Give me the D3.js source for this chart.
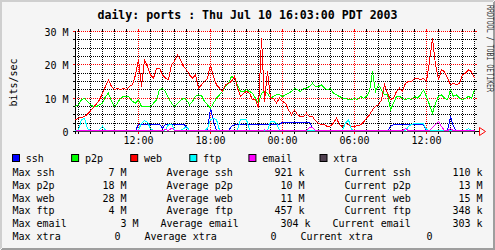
<!DOCTYPE html>
<html>
<head>
<meta charset="utf-8">
<script src="https://cdn.jsdelivr.net/npm/d3@7"></script>
<style>
  html, body { margin: 0; padding: 0; background: #f5f5f5; }
  svg { display: block; }
  text { font-family: "DejaVu Sans Mono", monospace; fill: #000; }
</style>
</head>
<body>
<svg id="chart" width="495" height="250"></svg>
<script>
// Series, legend order
const seriesNames = ['ssh', 'p2p', 'web', 'ftp', 'email', 'xtra']
const seriesColors = ['#0000ff', '#00ff00', '#ff0000', '#00ffff', '#ff00ff', '#504050']

// Samples every 15 minutes from Jul 9 06:45 (values in Mbit/s)
const startTime = new Date(2003, 6, 9, 6, 45)
const endTime = new Date(2003, 6, 10, 16, 5)
const stepMinutes = 15

const ssh = [
  0.1, 0.1, 0.1, 0.1, 0.1, 0.1, 0.1, 0.1, 0.1, 0.1,
  0.1, 0.1, 0.1, 0.1, 0.1, 0.1, 0.1, 0.1, 0.1, 0.1,
  0.1, 2.2, 2.2, 2.2, 2.2, 2.2, 2.2, 2.2, 2.2, 1.0,
  2.2, 2.2, 2.2, 2.2, 2.2, 2.2, 2.2, 1.3, 0.2, 0.2,
  0.2, 0.2, 0.2, 0.2, 0.2, 7.0, 3.0, 0.2, 0.2, 0.2,
  0.2, 0.2, 1.5, 2.0, 2.0, 2.0, 2.0, 2.0, 2.0, 2.0,
  2.0, 2.2, 2.2, 2.2, 2.2, 2.2, 2.2, 2.2, 2.2, 2.7,
  2.7, 2.7, 2.7, 2.7, 2.7, 2.7, 2.7, 2.7, 2.7, 1.2,
  0.3, 0.1, 0.1, 0.1, 0.1, 0.1, 0.1, 0.1, 0.1, 0.1,
  0.1, 0.1, 0.1, 0.1, 0.1, 0.1, 0.1, 0.1, 0.1, 0.1,
  0.1, 0.1, 0.1, 0.1, 0.1, 1.5, 2.1, 2.1, 2.1, 2.1,
  2.1, 2.1, 2.1, 2.1, 2.1, 2.1, 2.1, 0.3, 0.2, 0.2,
  0.2, 0.2, 0.2, 0.2, 0.2, 4.5, 1.5, 0.2, 0.2, 0.2,
  0.2, 0.2, 0.2, 0.2
]
const p2p = [
  7.5, 8, 9.5, 10, 9, 8, 7.5, 7.5, 8, 8.5,
  10.5, 11.5, 9, 7.5, 8.5, 10, 10.5, 10.5, 10.3, 9,
  8.5, 9.5, 7.5, 7.5, 7.5, 7.5, 8.5, 9.5, 12.5, 13,
  12, 10, 8.5, 7.5, 8.3, 9.3, 10, 9.5, 8, 9,
  10.5, 11, 10.8, 9, 8, 7, 8.5, 10, 11, 12,
  13.5, 14.5, 16.5, 16, 14, 12, 12, 12.5, 12, 11.5,
  10, 8.5, 11.5, 12, 11.5, 10, 10.5, 11, 11, 10.5,
  11, 11.5, 12, 13, 12.5, 12, 13, 13, 13.5, 14.5,
  13.5, 13.5, 14, 13, 12.5, 13, 11.5, 11, 10.5, 10,
  10, 9.5, 9.5, 10, 9.5, 10.5, 10, 10.5, 12, 18,
  12, 14, 12.5, 11, 11, 6.5, 8.5, 10.5, 10.5, 10,
  9.5, 10, 9.5, 10.5, 10, 11, 12.5, 10.5, 8, 5.5,
  8.5, 10.5, 11, 10, 9.5, 12.5, 10.5, 11, 10, 9.5,
  10, 10.5, 10, 12.5
]
const web = [
  3.5, 4.0, 4.2, 4.5, 5.2, 6.2, 7.2, 8.3, 9.5, 11.5,
  13.5, 15.5, 13.5, 12.5, 13, 12.5, 13, 12.5, 13.5, 14,
  17, 21.5, 13.5, 21.5, 19.5, 17, 16, 19, 19, 17,
  16, 15.5, 20, 21, 23, 21.5, 19.5, 18.5, 17, 16,
  17, 13, 14, 15, 16, 20, 16.5, 14, 13, 12,
  14, 14.5, 15, 16.5, 13, 10.5, 11.5, 12, 11.5, 9.5,
  9.5, 7, 28, 9, 18, 10, 10, 8.5, 10, 9,
  8.5, 6.5, 5, 6.5, 5, 4.5, 4.5, 5.5, 4.5, 4.5,
  3.2, 2.5, 2, 2, 1.5, 1.7, 2.5, 4, 2, 1.5,
  2.5, 2, 1.5, 1.5, 1.8, 2, 2.8, 4, 5, 6.5,
  7.5, 8, 9.5, 14, 11.5, 9.5, 10, 12, 13, 12,
  14.5, 15, 15, 16, 16, 15.5, 16, 15, 21, 28,
  20, 15.5, 18.5, 18, 16, 14, 14.5, 14, 14.5, 17,
  17.5, 18.5, 18, 16
]
const ftp = [
  0.3, 0.5, 3.5, 4, 0.8, 0.3, 0.3, 0.3, 0.5, 1.6,
  0.4, 0.3, 0.3, 0.3, 0.3, 0.3, 0.3, 0.3, 0.3, 0.3,
  0.3, 0.5, 2.5, 3.2, 2.8, 0.8, 0.3, 0.3, 0.3, 0.3,
  0.5, 2, 2.2, 0.5, 0.3, 0.3, 0.8, 1.5, 0.3, 0.3,
  0.3, 0.3, 0.3, 0.3, 1, 3.5, 4, 3.5, 0.4, 0.3,
  0.3, 0.3, 0.3, 0.3, 0.5, 3.5, 3.5, 3.5, 0.5, 0.3,
  0.3, 0.3, 0.3, 0.3, 0.4, 3, 3, 2.5, 0.4, 0.3,
  0.3, 0.3, 0.3, 0.3, 0.3, 0.3, 0.3, 0.3, 0.3, 0.3,
  0.3, 0.3, 0.3, 0.3, 0.3, 0.3, 0.3, 0.3, 0.3, 0.5,
  2.5, 3.5, 0.6, 0.3, 0.3, 0.3, 0.3, 0.3, 0.3, 0.3,
  0.3, 0.3, 0.3, 0.3, 0.3, 0.3, 0.3, 0.3, 0.3, 0.3,
  0.3, 1.5, 2.2, 2.3, 2.3, 2.3, 2.3, 0.6, 0.3, 0.3,
  0.3, 0.3, 0.3, 0.3, 0.3, 0.3, 0.3, 0.3, 0.3, 0.3,
  0.3, 0.8, 0.3, 0.3
]
const email = [
  0.3, 0.3, 0.3, 0.3, 0.3, 0.3, 0.3, 0.3, 0.3, 0.3,
  0.3, 0.3, 0.3, 0.3, 0.3, 0.3, 0.3, 0.3, 0.3, 0.3,
  0.3, 0.3, 0.3, 0.3, 0.3, 0.3, 0.3, 0.3, 0.3, 0.3,
  0.6, 0.3, 1.0, 0.4, 0.3, 0.3, 0.3, 0.3, 0.3, 0.3,
  0.3, 0.3, 0.3, 0.3, 0.3, 0.3, 0.3, 0.3, 0.3, 0.3,
  0.3, 0.3, 0.3, 0.3, 0.3, 0.3, 0.3, 0.3, 0.3, 0.3,
  0.3, 0.3, 0.3, 0.5, 0.3, 0.3, 0.3, 0.3, 0.3, 0.3,
  0.3, 0.3, 0.3, 0.3, 0.3, 0.3, 0.3, 0.3, 1.3, 1.2,
  0.3, 0.3, 0.3, 0.3, 0.3, 0.3, 0.3, 0.3, 0.3, 0.3,
  0.3, 0.3, 0.3, 0.3, 0.3, 0.3, 0.3, 0.3, 0.3, 0.3,
  0.3, 0.3, 0.3, 0.3, 0.3, 0.3, 0.3, 0.3, 0.3, 0.3,
  0.8, 0.3, 0.3, 0.3, 0.3, 0.3, 0.3, 0.3, 0.3, 1.2,
  2, 3, 1.5, 0.3, 0.3, 0.8, 0.3, 0.3, 0.3, 0.3,
  0.3, 0.3, 0.3, 0.3
]
const xtra = [
  0, 0, 0, 0, 0, 0, 0, 0, 0, 0, 0, 0, 0, 0, 0, 0, 0, 0, 0, 0,
  0, 0, 0, 0, 0, 0, 0, 0, 0, 0, 0, 0, 0, 0, 0, 0, 0, 0, 0, 0,
  0, 0, 0, 0, 0, 0, 0, 0, 0, 0, 0, 0, 0, 0, 0, 0, 0, 0, 0, 0,
  0, 0, 0, 0, 0, 0, 0, 0, 0, 0, 0, 0, 0, 0, 0, 0, 0, 0, 0, 0,
  0, 0, 0, 0, 0, 0, 0, 0, 0, 0, 0, 0, 0, 0, 0, 0, 0, 0, 0, 0,
  0, 0, 0, 0, 0, 0, 0, 0, 0, 0, 0, 0, 0, 0, 0, 0, 0, 0, 0, 0,
  0, 0, 0, 0, 0, 0, 0, 0, 0, 0, 0, 0, 0, 0
]

// Legend statistics (bits/sec)
const maxValues = [7e6, 18e6, 28e6, 4e6, 3e6, 0]
const avgValues = [921e3, 10e6, 11e6, 457e3, 304e3, 0]
const curValues = [110e3, 13e6, 15e6, 348e3, 303e3, 0]

const yTickValues = [0, 10, 20, 30]
const title = 'daily: ports : Thu Jul 10 16:03:00 PDT 2003'
const yTitle = 'bits/sec'
const watermark = 'RRDTOOL / TOBI OETIKER'

const CHAR = 6
const plot = { left: 75, top: 31, width: 400, height: 100 }
const crisp = v => Math.round(v) + 0.5

const svg = d3.select('#chart')

// Frame
svg.append('rect').attr('width', 495).attr('height', 250).attr('fill', '#f5f5f5')
svg.append('path').attr('d', 'M0,0.5H494M0,1.5H493M0.5,0V249M1.5,0V248').attr('stroke', '#cfcfcf')
svg.append('path').attr('d', 'M1,249.5H495M2,248.5H495M494.5,1V250M493.5,2V250').attr('stroke', '#9e9e9e')
svg.append('rect')
  .attr('x', plot.left).attr('y', plot.top)
  .attr('width', plot.width).attr('height', plot.height + 1)
  .attr('fill', '#fff')

// Scales
const x = d3.scaleTime().domain([startTime, endTime]).range([plot.left, plot.left + plot.width])
const y = d3.scaleLinear().domain([0, 30]).range([plot.top + plot.height, plot.top])
const xr = [plot.left, plot.left + plot.width]
const yr = [plot.top, plot.top + plot.height]

// Grid
const grid = svg.append('g')
const minorY = d3.range(0, 30.01, 2.5).filter(v => v % 10 !== 0)
const minorX = x.ticks(d3.timeHour.every(1)).filter(t => t.getHours() % 6 !== 0)
const majorX = x.ticks(d3.timeHour.every(6))

const hLine = (vals, color) => {
  vals.forEach(v => {
    const yy = crisp(y(v))
    grid.append('line').attr('x1', xr[0]).attr('x2', xr[1] + 2).attr('y1', yy).attr('y2', yy)
      .attr('stroke', color).attr('stroke-dasharray', '1,1')
    grid.append('line').attr('x1', xr[0] - 2).attr('x2', xr[0]).attr('y1', yy).attr('y2', yy).attr('stroke', color)
    grid.append('line').attr('x1', xr[1]).attr('x2', xr[1] + 2).attr('y1', yy).attr('y2', yy).attr('stroke', color)
  })
}
const vLine = (vals, color) => {
  vals.forEach(t => {
    const xx = crisp(x(t))
    grid.append('line').attr('x1', xx).attr('x2', xx).attr('y1', yr[0] - 2).attr('y2', yr[1])
      .attr('stroke', color).attr('stroke-dasharray', '1,1')
    grid.append('line').attr('x1', xx).attr('x2', xx).attr('y1', yr[1]).attr('y2', yr[1] + 3).attr('stroke', color)
    grid.append('line').attr('x1', xx).attr('x2', xx).attr('y1', yr[0] - 2).attr('y2', yr[0]).attr('stroke', color)
  })
}
hLine(minorY, '#000')
vLine(minorX, '#000')
hLine(yTickValues, '#ff0000')
vLine(majorX, '#ff0000')

// Axes
svg.append('line').attr('x1', plot.left + 0.5).attr('x2', plot.left + 0.5)
  .attr('y1', yr[0]).attr('y2', yr[1] + 3).attr('stroke', '#000')
svg.append('line').attr('x1', xr[0] - 2).attr('x2', xr[1] + 4)
  .attr('y1', yr[1] + 0.5).attr('y2', yr[1] + 0.5).attr('stroke', '#000')
svg.append('path').attr('d', `M${xr[1] + 4.5},${yr[1] - 3.5}L${xr[1] + 10.5},${yr[1] + 0.5}L${xr[1] + 4.5},${yr[1] + 4.5}Z`)
  .attr('fill', 'none').attr('stroke', '#ff0000')

svg.append('g').selectAll('text')
  .data(yTickValues)
  .enter().append('text')
  .attr('x', 68.5)
  .attr('y', d => crisp(y(d)) + 4)
  .attr('text-anchor', 'end')
  .style('font-size', '10px')
  .text(d => d === 0 ? '0' : `${d} M`)

svg.append('g').selectAll('text')
  .data(majorX)
  .enter().append('text')
  .attr('x', d => crisp(x(d)))
  .attr('y', 143.5)
  .attr('text-anchor', 'middle')
  .style('font-size', '10px')
  .text(d3.timeFormat('%H:%M'))

// Lines
const allSeries = [ssh, p2p, web, ftp, email, xtra]
const line = d3.line()
  .x((d, i) => x(d3.timeMinute.offset(startTime, i * stepMinutes)))
  .y(d => y(d))
const lines = svg.append('g').attr('transform', 'translate(0.5,0.5)')
allSeries.forEach((data, i) => {
  lines.append('path')
    .datum(data)
    .attr('d', line)
    .attr('fill', 'none')
    .attr('stroke', seriesColors[i])
    .attr('stroke-width', 1)
    .attr('shape-rendering', 'crispEdges')
})

// Titles
svg.append('text')
  .attr('x', 247.5).attr('y', 19)
  .attr('text-anchor', 'middle')
  .style('font-size', '11.6px')
  .style('font-weight', 'bold')
  .text(title)

svg.append('text')
  .attr('transform', 'translate(16.5, 82.5) rotate(-90)')
  .attr('text-anchor', 'middle')
  .style('font-size', '10px')
  .text(yTitle)

svg.append('text')
  .attr('transform', 'translate(486.5, 5) rotate(90)')
  .attr('textLength', 87)
  .attr('lengthAdjust', 'spacingAndGlyphs')
  .style('font-size', '9px')
  .style('fill', '#333')
  .text(watermark)

// Legend boxes
let lx = 12.5
seriesNames.forEach((name, i) => {
  svg.append('rect')
    .attr('x', lx).attr('y', 154.5).attr('width', 7).attr('height', 7)
    .attr('fill', seriesColors[i]).attr('stroke', '#000')
  svg.append('text')
    .attr('x', lx + 13.3).attr('y', 162)
    .style('font-size', '10px')
    .text(name)
  lx += 13.3 + name.length * CHAR + 27.8
})

// GPRINT style statistics
const siFormat = v => {
  if (v >= 1e6) return [String(Math.round(v / 1e6)), 'M']
  if (v >= 1e3) return [String(Math.round(v / 1e3)), 'k']
  return [String(v), '']
}
const gprint = (label, v) => {
  const [num, unit] = siFormat(v)
  return { label, num, unit, len: label.length + 11 + unit.length }
}
const rows = seriesNames.map((name, i) => [
  gprint(`Max ${name}`, maxValues[i]),
  gprint(`Average ${name}`, avgValues[i]),
  gprint(`Current ${name}`, curValues[i])
])

rows.forEach((items, r) => {
  const baseY = 176 + r * 12.8
  const widths = items.map(d => d.len * CHAR)
  let xs
  if (r < rows.length - 1) {
    const x0 = 12.5
    const x2 = 482.5 - widths[2]
    const gap = (x2 - x0 - widths[0] - widths[1]) / 2
    xs = [x0, x0 + widths[0] + gap, x2]
  } else {
    xs = [12.5]
    xs.push(xs[0] + widths[0] + 18)
    xs.push(xs[1] + widths[1] + 18)
  }
  items.forEach((d, k) => {
    svg.append('text').attr('x', xs[k]).attr('y', baseY).style('font-size', '10px').text(d.label)
    const end = xs[k] + widths[k] - (d.unit ? 0 : CHAR)
    svg.append('text').attr('x', end).attr('y', baseY).attr('text-anchor', 'end')
      .style('font-size', '10px')
      .text(d.unit ? `${d.num} ${d.unit}` : d.num)
  })
})
</script>
</body>
</html>
